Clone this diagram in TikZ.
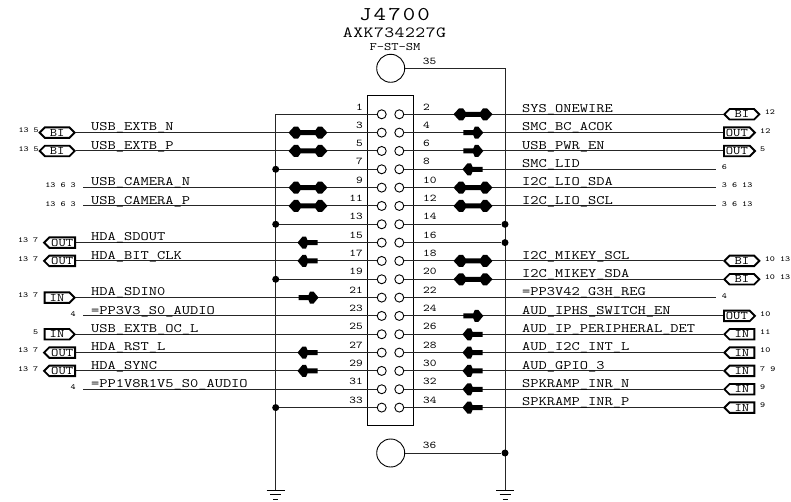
\documentclass[tikz,border=0pt]{standalone}
\usepackage{fontspec}
\setmonofont{Latin Modern Mono}[FakeStretch=1.24]
\usetikzlibrary{shapes.symbols}
\newcommand{\dblarrow}[2]{\fill[black,shift={(#1,#2)}] (-19.5,0)--(-14,-6)--(-10,-6)--(-7.5,-2.5)--(7.5,-2.5)--(10,-6)--(14,-6)--(19.5,0)--(14,6)--(10,6)--(7.5,2.5)--(-7.5,2.5)--(-10,6)--(-14,6)--cycle;}
\newcommand{\sglarrow}[3]{\fill[black,shift={(#1,#2)},xscale=#3] (-10,-2.5)--(0,-2.5)--(1.5,-6)--(5,-6)--(10,0)--(5,6)--(1.5,6)--(0,2.5)--(-10,2.5)--cycle;}
\tikzset{
  wire/.style={line width=1pt,black!85},
  pinc/.style={circle,draw,line width=0.9pt,fill=white,minimum size=9pt,inner sep=0pt},
  bigc/.style={circle,draw,line width=0.9pt,fill=white,minimum size=28pt,inner sep=0pt},
  jdot/.style={circle,fill=black,minimum size=7pt,inner sep=0pt},
  sig/.style={font=\ttfamily\fontsize{12.9}{13}\selectfont,anchor=base west,inner sep=0pt},
  pinnum/.style={font=\ttfamily\fontsize{10.3}{10}\selectfont,inner sep=0pt},
  xref/.style={font=\ttfamily\fontsize{7.7}{8}\selectfont,inner sep=0pt},
  flag/.style={shape=signal,draw,line width=1.9pt,fill=white,inner sep=0pt,minimum height=10.5pt,signal pointer angle=90,
     font=\ttfamily\fontsize{11.5}{10}\selectfont},
  fBI/.style={flag,minimum width=35pt,signal to=west and east},
  fOL/.style={flag,minimum width=31pt,signal to=west},
  fOR/.style={flag,minimum width=31pt,signal to=east},
  fIL/.style={flag,minimum width=30pt,signal to=west},
  fIR/.style={flag,minimum width=30pt,signal to=east},
}
\begin{document}
\begin{tikzpicture}[x=1pt,y=-1pt]
\useasboundingbox (0,0) rectangle (791,502);
\draw[line width=1pt] (367.7,96) rectangle (413.3,425.7);
\node[font=\ttfamily\fontsize{19.5}{20}\selectfont\addfontfeature{LetterSpace=11},inner sep=0pt] (title) at (394.5,15) {J4700};
\node[font=\ttfamily\fontsize{15.5}{16}\selectfont\addfontfeature{LetterSpace=3},inner sep=0pt] (part) at (394.5,32.5) {AXK734227G};
\node[font=\ttfamily\fontsize{11.4}{12}\selectfont,inner sep=0pt] (foot) at (395,47) {F-ST-SM};
\coordinate (gl) at (275.7,490);
\coordinate (gr) at (505,490);
\node[bigc] (p35) at (390.7,68.3) {};
\node[bigc] (p36) at (390.7,453) {};
\coordinate (top) at (275.7,114.3);
\coordinate (rtop) at (505,68.3);
\draw[wire] (p35.east) -- (rtop) -- (gr);
\draw[wire] (top) -- (gl);
\node[jdot] (j36) at (505,453) {};
\draw[wire] (p36.east) -- (j36);
\node[pinnum] (n35) at (429.5,61) {35};
\node[pinnum] (n36) at (429.5,445.5) {36};
\foreach \g in {gl,gr}{
  \draw[line width=1pt] ([xshift=-9pt]\g) -- ([xshift=9pt]\g);
  \draw[line width=1pt] ([xshift=-5.5pt,yshift=-4.5pt]\g) -- ([xshift=5.5pt,yshift=-4.5pt]\g);
  \draw[line width=1pt] ([xshift=-2.5pt,yshift=-9.5pt]\g) -- ([xshift=2.5pt,yshift=-9.5pt]\g);
}
\foreach \i in {0,...,16}{
  \pgfmathsetmacro{\yy}{114.3+18.33*\i}
  \pgfmathtruncatemacro{\a}{2*\i+1}
  \pgfmathtruncatemacro{\b}{2*\i+2}
  \node[pinc] (L\i) at (381.7,\yy) {};
  \node[pinc] (R\i) at (399.3,\yy) {};
  \node[pinnum,anchor=east] (nL\i) at (363,\yy-7.5) {\a};
  \node[pinnum,anchor=west] (nR\i) at (423,\yy-7.5) {\b};
}
\foreach \r/\x/\t in {1/76/USB\_EXTB\_N,2/76/USB\_EXTB\_P,4/83/USB\_CAMERA\_N,5/83/USB\_CAMERA\_P,7/76/HDA\_SDOUT,8/76/HDA\_BIT\_CLK,10/76/HDA\_SDIN0,11/83/=PP3V3\_S0\_AUDIO,12/76/USB\_EXTB\_OC\_L,13/76/HDA\_RST\_L,14/76/HDA\_SYNC,15/83/=PP1V8R1V5\_S0\_AUDIO}{
  \pgfmathsetmacro{\yy}{114.3+18.33*\r}
  \coordinate (ls\r) at (\x,\yy);
  \draw[wire] (ls\r) -- (L\r.west);
  \node[sig] (lt\r) at (91,\yy-1.7) {\t};
}
\foreach \r in {0,3,6,9,16}{
  \pgfmathsetmacro{\yy}{114.3+18.33*\r}
  \coordinate (lb\r) at (275.7,\yy);
  \draw[wire] (lb\r) -- (L\r.west);
}
\foreach \r in {3,6,9,16}{ \pgfmathsetmacro{\yy}{114.3+18.33*\r} \node[jdot] (jl\r) at (275.7,\yy) {}; }
\foreach \r/\x/\t in {0/723/SYS\_ONEWIRE,1/723/SMC\_BC\_ACOK,2/723/USB\_PWR\_EN,3/716/SMC\_LID,4/716/I2C\_LIO\_SDA,5/716/I2C\_LIO\_SCL,8/723/I2C\_MIKEY\_SCL,9/723/I2C\_MIKEY\_SDA,10/716/=PP3V42\_G3H\_REG,11/723/AUD\_IPHS\_SWITCH\_EN,12/723/AUD\_IP\_PERIPHERAL\_DET,13/723/AUD\_I2C\_INT\_L,14/723/AUD\_GPIO\_3,15/723/SPKRAMP\_INR\_N,16/723/SPKRAMP\_INR\_P}{
  \pgfmathsetmacro{\yy}{114.3+18.33*\r}
  \coordinate (re\r) at (\x,\yy);
  \draw[wire] (R\r.east) -- (re\r);
  \node[sig] (rt\r) at (522,\yy-1.7) {\t};
}
\foreach \r in {6,7}{
  \pgfmathsetmacro{\yy}{114.3+18.33*\r}
  \node[jdot] (jr\r) at (505,\yy) {};
  \draw[wire] (R\r.east) -- (jr\r);
}
\foreach \r in {1,2,4,5}{
  \pgfmathsetmacro{\yy}{114.3+18.33*\r}
  \dblarrow{308}{\yy}
}
\foreach \r in {0,4,5,8,9}{
  \pgfmathsetmacro{\yy}{114.3+18.33*\r}
  \dblarrow{473}{\yy}
}
\foreach \r/\x/\d in {7/307.5/-1,8/307.5/-1,13/307.5/-1,14/307.5/-1,10/308.5/1,1/473.3/1,2/473.3/1,11/473.3/1,3/472.5/-1,12/472.5/-1,13/472.5/-1,14/472.5/-1,15/472.5/-1,16/472.5/-1}{
  \pgfmathsetmacro{\yy}{114.3+18.33*\r}
  \sglarrow{\x}{\yy}{\d}
}
\foreach \r/\k/\t in {1/fBI/BI,2/fBI/BI,7/fOL/OUT,8/fOL/OUT,10/fIR/IN,12/fIR/IN,13/fOL/OUT,14/fOL/OUT}{
  \pgfmathsetmacro{\yy}{114.3+18.33*\r}
  \node[\k,anchor=east] (fl\r) at (76,\yy) {\t};
}
\foreach \r/\k/\t in {0/fBI/BI,1/fOR/OUT,2/fOR/OUT,8/fBI/BI,9/fBI/BI,11/fOR/OUT,12/fIL/IN,13/fIL/IN,14/fIL/IN,15/fIL/IN,16/fIL/IN}{
  \pgfmathsetmacro{\yy}{114.3+18.33*\r}
  \node[\k,anchor=west] (fr\r) at (723,\yy) {\t};
}
\foreach \r/\x/\t in {1/39/13 5,2/39/13 5,4/76/13 6 3,5/76/13 6 3,7/38.5/13 7,8/38.5/13 7,10/38.5/13 7,11/76/4,12/38.5/5,13/38.5/13 7,14/38.5/13 7,15/76/4}{
  \pgfmathsetmacro{\yy}{114.3+18.33*\r}
  \node[xref,anchor=east] (xl\r) at (\x,\yy-2) {\t};
}
\foreach \r/\x/\t in {0/764.7/12,1/760/12,2/760/5,3/721.7/6,4/721.7/3 6 13,5/721.7/3 6 13,8/764.7/10 13,9/764.7/10 13,10/721.7/4,11/760/10,12/760/11,13/760/10,14/760/7 9,15/760/9,16/760/9}{
  \pgfmathsetmacro{\yy}{114.3+18.33*\r}
  \node[xref,anchor=west] (xr\r) at (\x,\yy-2) {\t};
}
\end{tikzpicture}
\end{document}
